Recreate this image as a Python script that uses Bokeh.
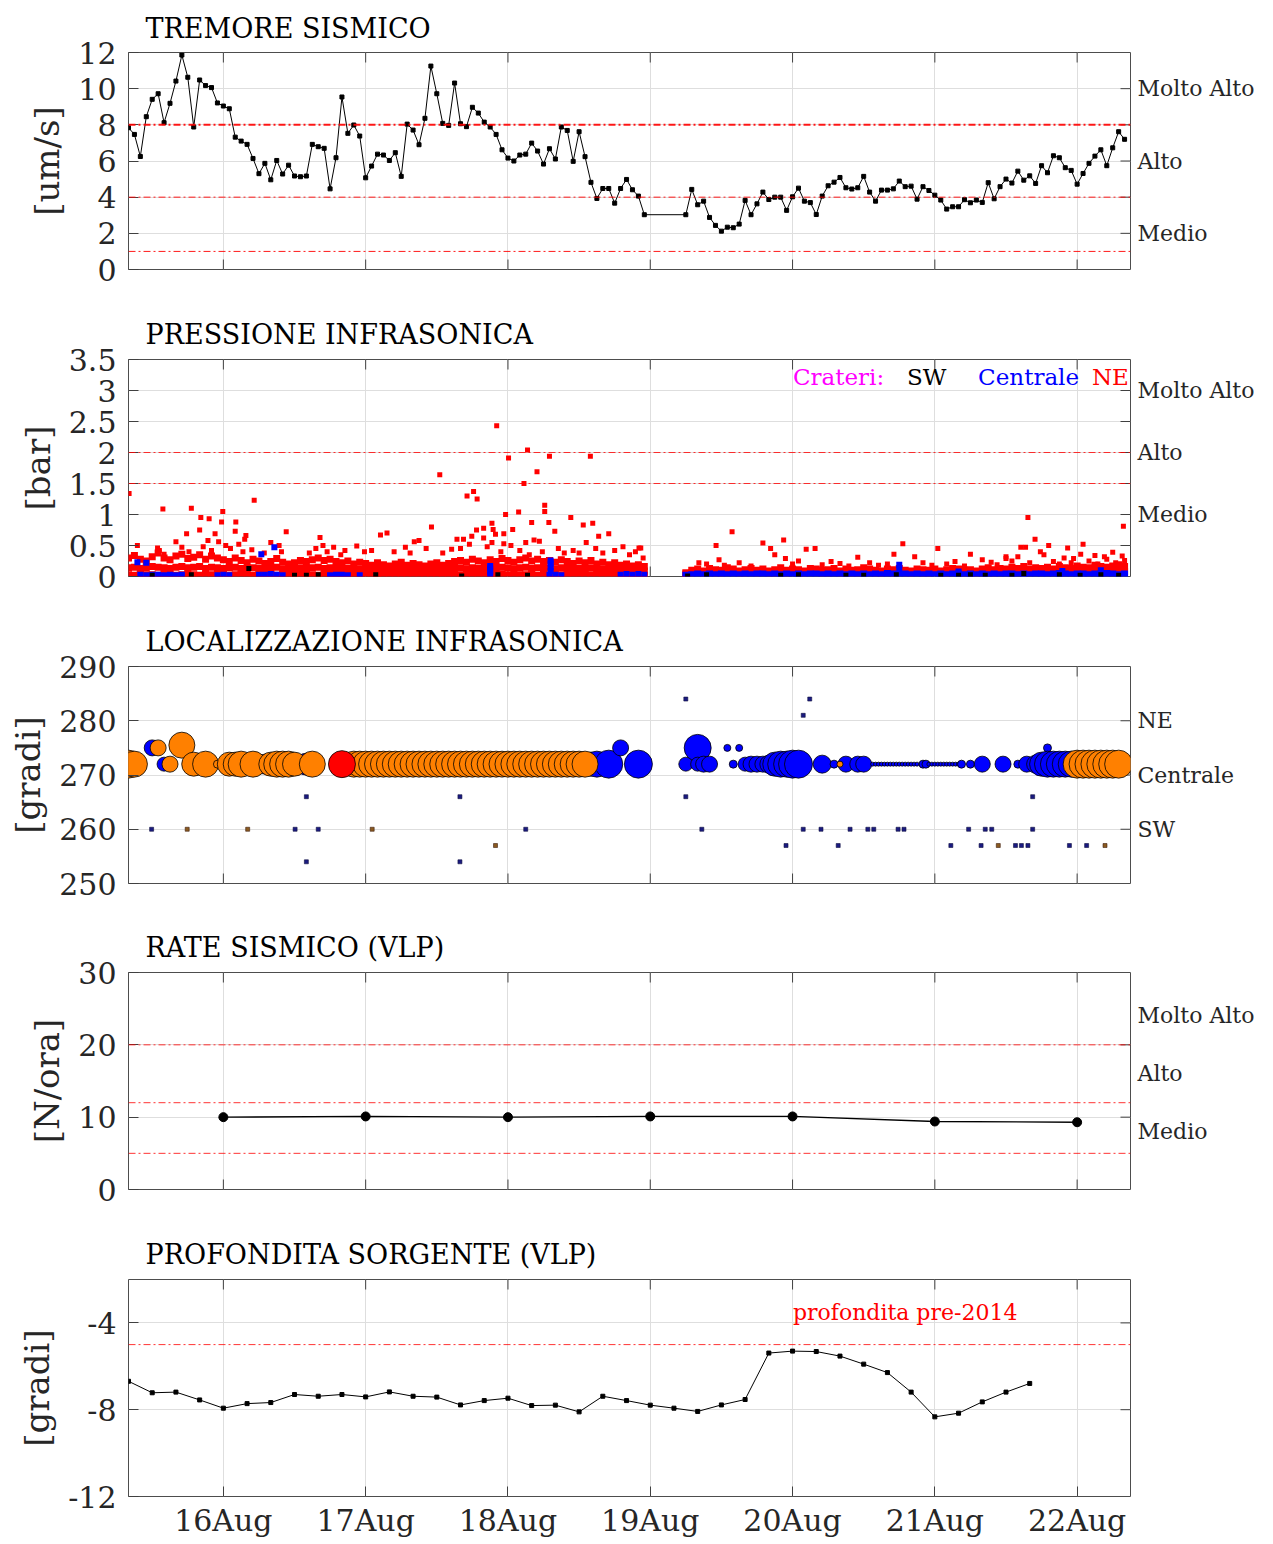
import math
from datetime import datetime, timezone, timedelta
from bokeh.plotting import figure
from bokeh.models import (Range1d, FixedTicker, DatetimeTickFormatter, LinearAxis,
                          Span, Label, ColumnDataSource)
from bokeh.layouts import column
from bokeh.embed import file_html
from bokeh.resources import INLINE

# ---------------- DATA ----------------
T0 = datetime(2019, 8, 15, 8, 0, tzinfo=timezone.utc)   # hour 0 of every series
X_END_H = 169                                          # 22Aug 09:00
DAY_TICK_H = [16, 40, 64, 88, 112, 136, 160]           # 16Aug ... 22Aug, 00:00

# Panel 1: seismic tremor (um/s), hourly, gap on 19Aug 00-05
tremor_hours = list(range(0, 88)) + list(range(94, 169))
tremor_vals = [
    7.84, 7.47, 6.25, 8.45, 9.41, 9.72, 8.12, 9.19, 10.42, 11.86, 10.63, 7.88, 10.48, 10.17, 10.06, 9.21,
    9.04, 8.89, 7.32, 7.10, 6.92, 6.14, 5.30, 5.87, 4.96, 6.03, 5.28, 5.77, 5.17, 5.13, 5.17, 6.92,
    6.79, 6.70, 4.46, 6.18, 9.54, 7.53, 7.99, 7.38, 5.07, 5.72, 6.38, 6.33, 6.03, 6.46, 5.15, 8.04,
    7.71, 6.90, 8.36, 11.25, 9.72, 8.08, 7.97, 10.31, 8.06, 7.90, 8.97, 8.65, 8.15, 7.88, 7.47, 6.62,
    6.16, 6.00, 6.33, 6.38, 6.99, 6.55, 5.83, 6.68, 6.11, 7.88, 7.69, 5.98, 7.62, 6.24, 4.82, 3.93,
    4.48, 4.48, 3.67, 4.48, 4.98, 4.41, 4.06, 3.03,
    3.03, 4.43, 3.58, 3.78, 2.88, 2.44, 2.12, 2.34, 2.31, 2.51, 3.82, 3.03, 3.63, 4.28, 3.87, 4.00,
    4.00, 3.27,
    4.02, 4.50, 3.78, 3.70, 3.04, 4.06, 4.63, 4.83, 5.09, 4.52, 4.45, 4.52, 5.15, 4.28, 3.78, 4.39,
    4.39, 4.46, 4.89, 4.58, 4.61, 3.89, 4.58, 4.37,
    4.11, 3.84, 3.34, 3.47, 3.47, 3.86, 3.69, 3.84, 3.71, 4.80, 3.91, 4.58, 5.00, 4.78, 5.44, 4.94,
    5.18, 4.76, 5.74, 5.35, 6.29, 6.18, 5.63, 5.48,
    4.72, 5.31, 5.87, 6.27, 6.62, 5.74, 6.73, 7.62, 7.20,
]
tremor_thresholds = [8, 4, 1]
tremor_levels = {2: "Medio", 6: "Alto", 10: "Molto Alto"}

# Panel 2: infrasonic pressure (bar)
band1_hours = list(range(0, 88))
red_base1 = [0.03, 0.02, 0.04, 0.03, 0.03, 0.02, 0.04, 0.03, 0.02, 0.03, 0.04, 0.03, 0.02, 0.03, 0.03, 0.04,
             0.03, 0.02, 0.03, 0.04, 0.03, 0.02, 0.03, 0.03, 0.04, 0.02, 0.03, 0.03, 0.02, 0.04, 0.03, 0.03,
             0.02, 0.03, 0.04, 0.03, 0.03, 0.02, 0.03, 0.04,
             0.03, 0.02, 0.03, 0.03, 0.04, 0.02, 0.03, 0.03, 0.02, 0.04, 0.03, 0.03, 0.02, 0.03, 0.04, 0.03,
             0.03, 0.02, 0.04, 0.03, 0.03, 0.02, 0.03, 0.04, 0.03, 0.02, 0.03, 0.03, 0.04, 0.02, 0.03, 0.03,
             0.02, 0.03, 0.04, 0.03, 0.02, 0.03, 0.03, 0.04, 0.02, 0.03, 0.03, 0.02, 0.04, 0.03, 0.03, 0.02]
red_mid1 = [0.14, 0.15, 0.13, 0.14, 0.16, 0.15, 0.14, 0.13, 0.15, 0.16, 0.14, 0.15, 0.16, 0.13, 0.15, 0.14,
            0.13, 0.14, 0.15, 0.13, 0.12, 0.14, 0.13, 0.12, 0.13, 0.15, 0.12, 0.11, 0.12, 0.14, 0.13, 0.14,
            0.15, 0.13, 0.14, 0.13, 0.12, 0.13, 0.11, 0.12,
            0.12, 0.11, 0.12, 0.11, 0.10, 0.12, 0.13, 0.11, 0.12, 0.11, 0.10, 0.12, 0.12, 0.11, 0.12, 0.13,
            0.14, 0.12, 0.14, 0.13, 0.12, 0.14, 0.13, 0.15, 0.14, 0.12, 0.14, 0.15, 0.13, 0.14, 0.13, 0.14,
            0.12, 0.14, 0.13, 0.12, 0.13, 0.12, 0.14, 0.11, 0.12, 0.11, 0.12, 0.10, 0.11, 0.10, 0.11, 0.09]
red_top1 = [0.30, 0.34, 0.28, 0.25, 0.32, 0.38, 0.30, 0.27, 0.33, 0.36, 0.29, 0.31, 0.35, 0.28, 0.33, 0.30,
            0.27, 0.24, 0.30, 0.26, 0.22, 0.28, 0.25, 0.21, 0.24, 0.29, 0.23, 0.20, 0.22, 0.26, 0.24, 0.27,
            0.30, 0.26, 0.28, 0.24, 0.22, 0.25, 0.20, 0.23,
            0.21, 0.18, 0.22, 0.19, 0.17, 0.20, 0.23, 0.18, 0.21, 0.19, 0.17, 0.20, 0.22, 0.18, 0.21, 0.24,
            0.26, 0.23, 0.28, 0.25, 0.22, 0.27, 0.24, 0.29, 0.26, 0.23, 0.27, 0.30, 0.25, 0.28, 0.24, 0.26,
            0.23, 0.27, 0.24, 0.21, 0.25, 0.22, 0.26, 0.20, 0.23, 0.19, 0.22, 0.18, 0.20, 0.17, 0.19, 0.16]
band2_hours = list(range(94, 169))
red_mid2 = [0.04, 0.06, 0.07, 0.06, 0.07, 0.06, 0.06, 0.07, 0.07, 0.06,
            0.06, 0.07, 0.06, 0.07, 0.06, 0.06, 0.08, 0.06, 0.07, 0.06,
            0.06, 0.07, 0.07, 0.06, 0.06, 0.07, 0.06, 0.07, 0.06, 0.06,
            0.08, 0.07, 0.06, 0.06, 0.07, 0.06, 0.07, 0.06, 0.06, 0.07,
            0.06, 0.06, 0.07, 0.06, 0.06, 0.07, 0.07, 0.06, 0.06, 0.06,
            0.07, 0.08, 0.06, 0.07, 0.07, 0.08, 0.07, 0.08, 0.07, 0.08,
            0.07, 0.08, 0.07, 0.08, 0.08, 0.07, 0.09, 0.08, 0.08, 0.09,
            0.08, 0.08, 0.09, 0.10, 0.08]
red_top2 = [0.06, 0.10, 0.12, 0.09, 0.13, 0.11, 0.10, 0.14, 0.12, 0.09,
            0.11, 0.13, 0.10, 0.12, 0.09, 0.11, 0.14, 0.10, 0.12, 0.11,
            0.09, 0.13, 0.12, 0.10, 0.11, 0.13, 0.09, 0.12, 0.10, 0.11,
            0.14, 0.12, 0.10, 0.09, 0.12, 0.11, 0.13, 0.10, 0.09, 0.12,
            0.11, 0.10, 0.12, 0.09, 0.11, 0.13, 0.12, 0.10, 0.11, 0.09,
            0.12, 0.14, 0.11, 0.13, 0.12, 0.15, 0.13, 0.16, 0.12, 0.14,
            0.13, 0.15, 0.12, 0.16, 0.14, 0.13, 0.17, 0.15, 0.14, 0.18,
            0.16, 0.15, 0.17, 0.19, 0.16]
red_pts_h = [0.1, 5.8, 10.6, 12.2, 13.6, 15.9, 15.7, 21.2, 18.1, 18.0, 19.8, 14.6, 12.0, 9.8, 8.0, 1.5, 4.9,
             26.6, 32.3, 32.8, 25.4, 42.5, 43.6, 51.1, 52.5, 48.2, 49.0, 46.7, 62.1, 57.1, 58.2, 58.8,
             64.1, 67.3, 68.9, 66.7, 71.0, 77.9, 63.6, 65.8, 70.2, 70.2, 61.3, 59.9, 58.7, 57.9, 64.8,
             68.0, 70.9, 71.9, 74.6, 76.7, 78.3, 79.3, 81.0, 83.4, 86.4, 68.4, 69.3, 61.9, 63.3, 56.5,
             55.4, 59.9, 61.5, 61.3, 67.6, 63.3,
             5.2, 6.0, 9.0, 10.2, 12.6, 13.4, 14.0, 15.2, 16.4, 17.2, 18.6, 19.3, 19.6, 20.8, 22.9, 24.0,
             25.8, 30.5, 31.6, 33.5, 34.6, 35.8, 36.5, 38.5, 39.8, 41.0, 44.8, 47.5, 50.2, 53.0, 54.5,
             56.0, 57.5, 60.5, 62.8, 64.5, 66.0, 67.0, 69.8, 72.5, 73.5, 75.0, 76.0, 77.2, 78.8, 80.0,
             82.0, 84.5, 85.5, 86.8,
             86.1, 99.1, 101.8, 107.0, 108.3, 109.0, 110.5, 110.8, 114.3, 115.8, 99.6, 96.2, 130.6, 129.1,
             132.6, 136.5, 139.4, 142.0, 144.0, 148.0, 150.5, 151.3, 151.7, 152.9, 155.2, 158.4, 161.0,
             160.6, 166.0, 167.8, 167.6, 154.4, 150.0, 123.0, 148.0, 164.6, 163.0, 159.4, 157.8, 153.8,
             97.5, 100.5, 103.0, 105.0, 112.0, 113.0, 117.0, 118.5, 120.0, 121.5, 125.0, 126.5, 128.0,
             134.0, 135.5, 138.0, 141.0, 145.5, 146.5, 149.0, 152.0, 156.0, 157.0, 159.0, 162.0, 163.5,
             165.0, 166.5, 168.0]
red_pts_v = [1.34, 1.09, 1.10, 0.95, 0.93, 1.05, 0.88, 1.23, 0.88, 0.73, 0.66, 0.69, 0.75, 0.69, 0.56, 0.50, 0.46,
             0.72, 0.63, 0.50, 0.50, 0.67, 0.70, 0.80, 1.64, 0.56, 0.58, 0.47, 2.43, 1.30, 1.37, 1.25,
             1.91, 2.04, 1.69, 1.50, 1.94, 1.94, 1.00, 1.04, 1.15, 1.05, 0.86, 0.78, 0.75, 0.65, 0.76,
             0.87, 0.87, 0.73, 0.95, 0.83, 0.86, 0.65, 0.69, 0.48, 0.46, 0.59, 0.57, 0.68, 0.69, 0.60,
             0.60, 0.62, 0.76, 0.55, 0.35, 0.53,
             0.42, 0.36, 0.47, 0.40, 0.48, 0.58, 0.42, 0.56, 0.50, 0.45, 0.52, 0.40, 0.60, 0.43, 0.38, 0.55,
             0.40, 0.38, 0.45, 0.40, 0.47, 0.35, 0.42, 0.49, 0.40, 0.42, 0.40, 0.38, 0.45, 0.38, 0.44,
             0.45, 0.52, 0.48, 0.40, 0.50, 0.42, 0.55, 0.40, 0.45, 0.38, 0.42, 0.38, 0.55, 0.45, 0.38,
             0.42, 0.35, 0.40, 0.30,
             0.46, 0.50, 0.72, 0.54, 0.45, 0.35, 0.59, 0.29, 0.44, 0.45, 0.27, 0.22, 0.53, 0.36,
             0.32, 0.45, 0.24, 0.36, 0.27, 0.32, 0.47, 0.47, 0.95, 0.60, 0.50, 0.46, 0.52,
             0.36, 0.39, 0.81, 0.33, 0.35, 0.32, 0.31, 0.29, 0.32, 0.34, 0.29, 0.30, 0.40,
             0.20, 0.18, 0.22, 0.17, 0.20, 0.25, 0.19, 0.24, 0.21, 0.17, 0.22, 0.18, 0.20,
             0.22, 0.18, 0.20, 0.17, 0.23, 0.19, 0.25, 0.22, 0.24, 0.20, 0.22, 0.25, 0.20,
             0.28, 0.22, 0.26]
blue_pts_h = [2, 3, 4, 5, 6, 7, 8, 9, 15, 16, 17, 22, 23, 24, 25, 26, 34, 35, 36, 37, 39,
              61, 61, 61, 61, 71, 72, 73, 71.2, 71.2, 71.2, 71.2, 83, 84, 85, 86, 87,
              22.4, 24.6, 1.5, 3.0, 130, 130, 164, 157.5, 140]
blue_pts_v = [0.03, 0.02, 0.03, 0.03, 0.02, 0.03, 0.02, 0.03, 0.02, 0.03, 0.02, 0.03, 0.03, 0.04, 0.03, 0.02,
              0.02, 0.03, 0.03, 0.02, 0.02,
              0.03, 0.08, 0.13, 0.17, 0.03, 0.03, 0.02, 0.09, 0.15, 0.21, 0.26, 0.03, 0.04, 0.03, 0.04, 0.03,
              0.36, 0.47, 0.23, 0.22, 0.12, 0.19, 0.10, 0.09, 0.08]
blue_band2 = [0.02, 0.03, 0.04, 0.03, 0.04, 0.03, 0.04, 0.03, 0.04, 0.03,
              0.04, 0.03, 0.04, 0.04, 0.03, 0.04, 0.03, 0.04, 0.03, 0.04,
              0.03, 0.04, 0.04, 0.03, 0.04, 0.03, 0.04, 0.03, 0.04, 0.03,
              0.04, 0.03, 0.04, 0.03, 0.05, 0.04, 0.03, 0.04, 0.03, 0.04,
              0.03, 0.04, 0.03, 0.04, 0.03, 0.04, 0.04, 0.03, 0.04, 0.03,
              0.04, 0.03, 0.04, 0.03, 0.04, 0.04, 0.03, 0.04, 0.03, 0.04,
              0.04, 0.03, 0.04, 0.05, 0.04, 0.03, 0.04, 0.04, 0.03, 0.04,
              0.04, 0.05, 0.04, 0.03, 0.04]
black_pts_h = [4, 10.6, 20.3, 28, 30, 32, 41.7, 56.2, 62.3, 67.3, 94.3, 97.5, 110, 113, 121, 124, 129.5,
               137, 140, 142, 144.5, 149, 151, 157, 160.5, 164, 167]
black_pts_v = [0.02, 0.03, 0.13, 0.02, 0.02, 0.03, 0.03, 0.01, 0.03, 0.02, 0.01, 0.03, 0.02, 0.03, 0.02, 0.02,
               0.03, 0.02, 0.02, 0.03, 0.02, 0.02, 0.05, 0.03, 0.02, 0.03, 0.02]
press_thresholds = [2, 1.5]
press_levels = {1: "Medio", 2: "Alto", 3: "Molto Alto"}
crater_names = ["Crateri:", "SW", "Centrale", "NE"]
crater_colors = ["magenta", "black", "blue", "red"]

# Panel 3: infrasonic location (degrees), circles sized by amplitude
blue_loc_h = [4, 6, 23, 30, 78, 79, 81, 83, 86, 94, 96, 96, 97, 98, 101, 103, 102, 104, 105, 106, 107, 108,
              109, 110, 111, 112, 113, 117, 119, 121, 123, 124,
              125.5, 126, 126.5, 127, 127.5, 128, 128.5, 129, 129.5, 130, 130.5, 131, 131.5, 132, 132.5, 133,
              134, 134.5,
              135, 135.5, 136, 136.5, 137, 137.5, 138, 138.5, 139, 139.5, 140,
              140.5, 142, 144, 147.5, 150, 151.5, 153, 154, 155, 155, 156, 157, 158, 159, 160]
blue_loc_v = [275, 272, 272, 272, 272, 272, 272, 275, 272, 272, 275, 272, 272, 272, 275, 275, 272, 272, 272, 272,
              272, 272, 272, 272, 272, 272, 272, 272, 272, 272, 272, 272,
              272, 272, 272, 272, 272, 272, 272, 272, 272, 272, 272, 272, 272, 272, 272, 272,
              272, 272,
              272, 272, 272, 272, 272, 272, 272, 272, 272, 272, 272,
              272, 272, 272, 272, 272, 272, 272, 272, 275, 272, 272, 272, 272, 272, 272]
blue_loc_s = [16, 14, 20, 22, 24, 26, 28, 16, 28, 14, 27, 14, 16, 16, 7, 7, 8, 14, 16, 16, 16, 18,
              24, 26, 26, 28, 28, 18, 8, 16, 16, 16,
              4, 4, 4, 4, 4, 4, 4, 4, 4, 4, 4, 4, 4, 4, 4, 4,
              8, 8,
              4, 4, 4, 4, 4, 4, 4, 4, 4, 4, 4,
              8, 8, 16, 16, 8, 16, 18, 24, 8, 26, 26, 26, 26, 26, 26]
orange_loc_h = [0, 1, 5, 7, 9, 11, 13, 15, 17, 18, 19, 21, 24, 25, 26, 27, 28, 31,
                38, 39, 40, 41, 42, 43, 44, 45, 46, 47, 48, 49, 50, 51, 52, 53, 54, 55, 56, 57,
                58, 59, 60, 61, 62, 63, 64, 65, 66, 67, 68, 69, 70, 71, 72, 73, 74, 75, 76, 77,
                120, 160, 161, 162, 163, 164, 165, 166, 167]
orange_loc_v = [272, 272, 275, 272, 275.5, 272, 272, 272, 272, 272, 272, 272, 272, 272, 272, 272, 272, 272,
                272, 272, 272, 272, 272, 272, 272, 272, 272, 272, 272, 272, 272, 272, 272, 272, 272, 272, 272, 272,
                272, 272, 272, 272, 272, 272, 272, 272, 272, 272, 272, 272, 272, 272, 272, 272, 272, 272, 272, 272,
                272, 272, 272, 272, 272, 272, 272, 272, 272]
orange_loc_s = [28, 26, 16, 16, 26, 24, 26, 8, 24, 24, 26, 26, 24, 26, 26, 26, 24, 26,
                26, 26, 26, 26, 26, 26, 26, 26, 26, 26, 26, 26, 26, 26, 26, 26, 26, 26, 26, 26,
                26, 26, 26, 26, 26, 26, 26, 26, 26, 26, 26, 26, 26, 26, 26, 26, 26, 26, 26, 26,
                6, 28, 28, 28, 28, 28, 28, 28, 28]
red_loc_h = [36]
red_loc_v = [272]
red_loc_s = [27]
dot_navy_h = [3.9, 28.1, 32, 30, 30, 55.9, 55.9, 67, 94, 94, 114.9, 113.8, 96.7, 113.8, 116.8, 121.7, 124.7,
              125.7, 129.8, 130.8, 141.7, 144.5, 145.6, 152.5, 110.9, 119.7, 138.7, 143.8, 149.6, 150.6,
              151.7, 158.7, 161.6, 152.5]
dot_navy_v = [260, 260, 260, 266, 254, 266, 254, 260, 284, 266, 284, 281, 260, 260, 260, 260, 260,
              260, 260, 260, 260, 260, 260, 260, 257, 257, 257, 257, 257, 257,
              257, 257, 257, 266]
dot_orange_h = [9.9, 20.1, 41.1, 61.9, 146.7, 164.7]
dot_orange_v = [260, 260, 260, 257, 257, 257]
loc_levels = {260: "SW", 270: "Centrale", 280: "NE"}

# Panel 4: VLP seismic rate (N/ora), daily
rate_hours = [16, 40, 64, 88, 112, 136, 160]
rate_vals = [10.0, 10.1, 10.0, 10.1, 10.1, 9.4, 9.3]
rate_thresholds = [20, 12, 5]
rate_levels = {8: "Medio", 16: "Alto", 24: "Molto Alto"}

# Panel 5: VLP source depth, every 4 hours
depth_hours = list(range(0, 153, 4))
depth_vals = [-6.69, -7.22, -7.19, -7.55, -7.93, -7.72, -7.67, -7.30, -7.38, -7.30, -7.41, -7.18, -7.38,
              -7.42, -7.78, -7.58, -7.47, -7.81, -7.79, -8.10, -7.38, -7.58, -7.79, -7.93, -8.08, -7.78,
              -7.53, -5.39, -5.30, -5.32, -5.53, -5.90, -6.29, -7.19, -8.33, -8.16, -7.64, -7.19, -6.79]
depth_threshold = -5

# ---------------- STYLE / HELPERS ----------------
FONT = "DejaVu Serif"
TXT = "#262626"
GRID = "#dedede"
TICK = "#404040"
DASH = "7 3 2 3"


def ms(h):
    return (T0 + timedelta(hours=h)).timestamp() * 1000.0


def to_ms(hours):
    return [ms(h) for h in hours]


DAY_MS = to_ms(DAY_TICK_H)


def make_fig(title, ylabel, y0, y1, yticks, left_over, right_labels, right_ticks,
             top=53, bottom=37, standoff=19, last=False):
    p = figure(frame_width=1002, frame_height=217, x_axis_type="datetime",
               x_range=Range1d(ms(0), ms(X_END_H)), y_range=Range1d(y0, y1),
               output_backend="svg", toolbar_location=None,
               min_border_left=128, min_border_right=132, min_border_top=top,
               min_border_bottom=bottom,
               background_fill_color="white", border_fill_color="white")
    p.title.text = title
    p.title.text_font = FONT
    p.title.text_font_size = "27px"
    p.title.text_font_style = "normal"
    p.title.text_color = "black"
    p.title.align = "left"
    p.title.offset = 17
    p.title.standoff = standoff
    p.outline_line_color = "#4d4d4d"
    p.outline_line_width = 1
    p.outline_line_alpha = 1

    # x axis (labels only on the last panel)
    xa = p.xaxis[0]
    if last:
        xa.ticker = FixedTicker(ticks=DAY_MS)
        xa.formatter = DatetimeTickFormatter(days="%d%b", months="%d%b", hours="%d%b", hourmin="%d%b",
                                             minutes="%d%b", years="%d%b")
        xa.major_tick_in = 10
        xa.major_tick_out = 0
        xa.minor_tick_line_color = None
        xa.axis_line_color = None
        xa.major_tick_line_color = TICK
        xa.major_label_text_font = FONT
        xa.major_label_text_color = TXT
        xa.major_label_text_font_size = "30px"
        xa.major_label_standoff = 6
    else:
        xa.visible = False
        # inward ticks on the bottom edge (marker half clipped by the frame)
        p.scatter(DAY_MS, [y0] * len(DAY_MS), marker="dash", angle=math.pi / 2, size=20,
                  line_color=TICK, line_width=1)
    # inward ticks on the top edge
    p.scatter(DAY_MS, [y1] * len(DAY_MS), marker="dash", angle=math.pi / 2, size=20,
              line_color=TICK, line_width=1)

    # y axis (left)
    ya = p.yaxis[0]
    ya.ticker = FixedTicker(ticks=yticks)
    if left_over:
        ya.major_label_overrides = left_over
    ya.major_tick_in = 10
    ya.major_tick_out = 0
    ya.minor_tick_line_color = None
    ya.axis_line_color = None
    ya.major_tick_line_color = TICK
    ya.major_label_text_font = FONT
    ya.major_label_text_font_size = "30px"
    ya.major_label_text_color = TXT
    ya.major_label_standoff = 12
    ya.axis_label = ylabel
    ya.axis_label_text_font = FONT
    ya.axis_label_text_font_size = "34px"
    ya.axis_label_text_font_style = "normal"
    ya.axis_label_text_color = TXT
    ya.axis_label_standoff = 8

    # grids
    p.xgrid.ticker = FixedTicker(ticks=DAY_MS)
    p.ygrid.ticker = FixedTicker(ticks=yticks)
    p.xgrid.grid_line_color = GRID
    p.ygrid.grid_line_color = GRID

    # right side: inward ticks + level names
    if right_ticks:
        p.scatter([ms(X_END_H)] * len(right_ticks), right_ticks, marker="dash", size=20,
                  line_color=TICK, line_width=1)
    if right_labels:
        ra = LinearAxis(ticker=FixedTicker(ticks=list(right_labels.keys())),
                        major_label_overrides=right_labels,
                        major_tick_in=0, major_tick_out=0, minor_tick_line_color=None,
                        axis_line_color=None, major_tick_line_color=None,
                        major_label_text_font=FONT, major_label_text_font_size="22px",
                        major_label_text_color=TXT, major_label_standoff=7)
        p.add_layout(ra, "right")
    return p


def hline(p, y, width=1.0, alpha=0.9):
    p.add_layout(Span(location=y, dimension="width", line_color="red", line_dash=DASH,
                      line_width=width, line_alpha=alpha))


# ---------------- PANEL 1 ----------------
p1 = make_fig("TREMORE SISMICO", "[um/s]", 0, 12, [0, 2, 4, 6, 8, 10, 12], None,
              tremor_levels, [2, 4, 6, 8, 10], top=52, bottom=37, standoff=18)
hline(p1, tremor_thresholds[0], 2.0)
hline(p1, tremor_thresholds[1])
hline(p1, tremor_thresholds[2])
s1 = ColumnDataSource(dict(x=to_ms(tremor_hours), y=tremor_vals))
p1.line("x", "y", source=s1, line_color="black", line_width=1)
p1.scatter("x", "y", source=s1, marker="square", size=4, fill_color="black", line_color="black")

# ---------------- PANEL 2 ----------------
pt = [0, 0.5, 1, 1.5, 2, 2.5, 3, 3.5]
p2 = make_fig("PRESSIONE INFRASONICA", "[bar]", 0, 3.5, pt,
              {0: "0", 0.5: "0.5", 1: "1", 1.5: "1.5", 2: "2", 2.5: "2.5", 3: "3", 3.5: "3.5"},
              press_levels, [0.5, 1, 1.5, 2, 2.5, 3])
for t in press_thresholds:
    hline(p2, t, 1.0, 0.8)
for hrs, vals in [(band1_hours, red_base1), (band1_hours, red_mid1), (band1_hours, red_top1),
                  (band2_hours, red_mid2), (band2_hours, red_top2)]:
    p2.scatter(to_ms(hrs), vals, marker="square", size=7, fill_color="red", line_color="red", line_width=0)
p2.scatter(to_ms(red_pts_h), red_pts_v, marker="square", size=5, fill_color="red", line_color="red", line_width=0)
p2.scatter(to_ms(band2_hours), blue_band2, marker="square", size=7, fill_color="blue", line_color="blue", line_width=0)
p2.scatter(to_ms(blue_pts_h), blue_pts_v, marker="square", size=6, fill_color="blue", line_color="blue", line_width=0)
p2.scatter(to_ms(black_pts_h), black_pts_v, marker="square", size=5, fill_color="black", line_color="black", line_width=0)
for name, col, h in zip(crater_names, crater_colors, [112.06, 131.3, 143.3, 162.5]):
    p2.add_layout(Label(x=ms(h), y=3.21, text=name, text_color=col, text_font=FONT,
                        text_font_size="23px", text_baseline="middle", text_align="left"))

# ---------------- PANEL 3 ----------------
lt = [250, 260, 270, 280, 290]
p3 = make_fig("LOCALIZZAZIONE INFRASONICA", "[gradi]", 250, 290, lt, None,
              loc_levels, [260, 270, 280], bottom=36)
p3.scatter(to_ms(blue_loc_h), blue_loc_v, size=blue_loc_s, fill_color="blue", line_color="black", line_width=0.8)
p3.scatter(to_ms(orange_loc_h), orange_loc_v, size=orange_loc_s, fill_color="#ff8000", line_color="black",
           line_width=0.8)
p3.scatter(to_ms(red_loc_h), red_loc_v, size=red_loc_s, fill_color="red", line_color="black", line_width=0.8)
p3.scatter(to_ms(dot_navy_h), dot_navy_v, marker="square", size=4, fill_color="#1a1a80", line_color="#101040",
           line_width=0.6)
p3.scatter(to_ms(dot_orange_h), dot_orange_v, marker="square", size=4, fill_color="#8a5a20", line_color="#402010",
           line_width=0.6)

# ---------------- PANEL 4 ----------------
p4 = make_fig("RATE SISMICO (VLP)", "[N/ora]", 0, 30, [0, 10, 20, 30], None,
              rate_levels, [10, 20], bottom=37)
for t in rate_thresholds:
    hline(p4, t, 1.0, 0.8)
s4 = ColumnDataSource(dict(x=to_ms(rate_hours), y=rate_vals))
p4.line("x", "y", source=s4, line_color="black", line_width=1.3)
p4.scatter("x", "y", source=s4, size=9, fill_color="black", line_color="black")

# ---------------- PANEL 5 ----------------
p5 = make_fig("PROFONDITA SORGENTE (VLP)", "[gradi]", -12, -2, [-12, -8, -4],
              {-12: "-12", -8: "-8", -4: "-4"}, None, [-8, -4], bottom=42, last=True)
hline(p5, depth_threshold, 1.0, 0.8)
s5 = ColumnDataSource(dict(x=to_ms(depth_hours), y=depth_vals))
p5.line("x", "y", source=s5, line_color="black", line_width=1)
p5.scatter("x", "y", source=s5, marker="square", size=4, fill_color="black", line_color="black")
p5.add_layout(Label(x=ms(112.06), y=-3.53, text="profondita pre-2014", text_color="red", text_font=FONT,
                    text_font_size="22px", text_baseline="middle", text_align="left"))

layout = column(p1, p2, p3, p4, p5, spacing=0)
open("out.html", "w").write(file_html(layout, INLINE))
